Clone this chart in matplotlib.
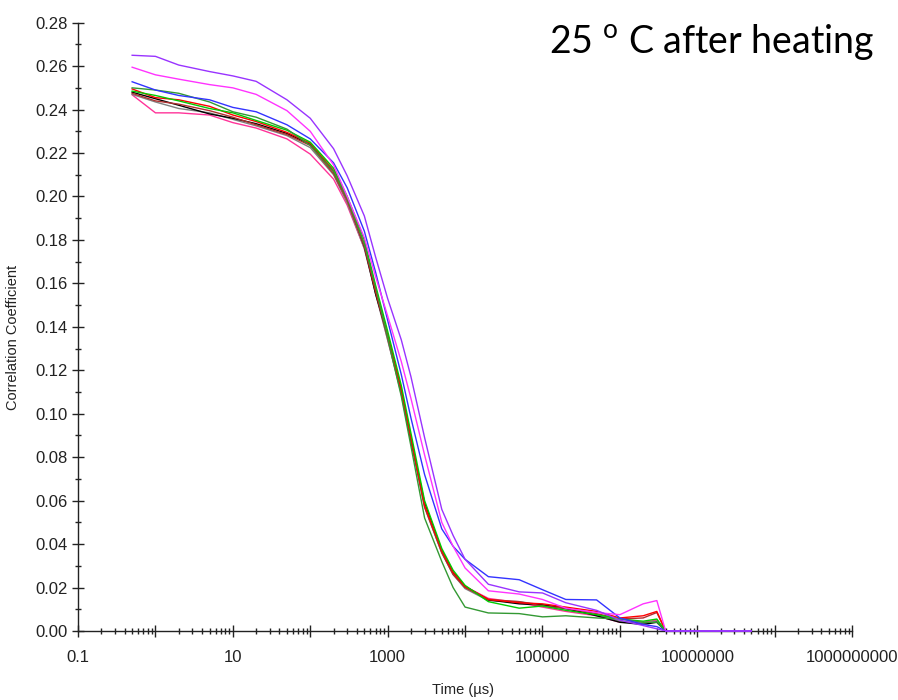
import matplotlib
matplotlib.use("Agg")
import matplotlib.pyplot as plt
import numpy as np
from matplotlib.ticker import FixedLocator, FixedFormatter, MultipleLocator, NullFormatter

# time grid (us) shared by all the curves
times = [0.5, 1, 2, 5, 10, 20, 50, 100, 200, 300, 500, 700, 1000, 1500, 2000,
         3000, 5000, 7000, 10000, 20000, 50000, 1e5, 2e5, 5e5, 1e6, 2e6, 3e6, 3.9e6]

purple = [0.265, 0.2645, 0.2605, 0.2575, 0.2555, 0.253, 0.2445, 0.236, 0.222, 0.2095, 0.191, 0.172,
          0.153, 0.134, 0.117, 0.089, 0.056, 0.044, 0.033, 0.0215, 0.018, 0.0175, 0.013, 0.0095,
          0.005, 0.0025, 0.001, 0.0]
magenta = [0.2595, 0.256, 0.254, 0.2515, 0.25, 0.247, 0.2395, 0.230, 0.2145, 0.2, 0.181, 0.163,
           0.145, 0.124, 0.107, 0.081, 0.050, 0.039, 0.029, 0.0185, 0.017, 0.0145, 0.0105, 0.0085,
           0.0075, 0.0125, 0.014, 0.0]
blue = [0.2528, 0.249, 0.2465, 0.2445, 0.241, 0.239, 0.233, 0.2265, 0.2155, 0.204, 0.184, 0.165,
        0.143, 0.118, 0.098, 0.072, 0.047, 0.039, 0.033, 0.025, 0.0236, 0.019, 0.0145, 0.0143,
        0.006, 0.003, 0.002, 0.0]
dark_green = [0.250, 0.249, 0.2475, 0.2435, 0.239, 0.2365, 0.231, 0.2235, 0.2115, 0.199, 0.178, 0.158,
              0.135, 0.108, 0.085, 0.052, 0.032, 0.020, 0.011, 0.0083, 0.008, 0.0065, 0.007, 0.006,
              0.0055, 0.004, 0.004, 0.0]
lime = [0.2485, 0.2465, 0.244, 0.2405, 0.2385, 0.235, 0.2305, 0.225, 0.213, 0.2, 0.18, 0.159,
        0.138, 0.113, 0.091, 0.060, 0.038, 0.028, 0.021, 0.0135, 0.0105, 0.0115, 0.0095, 0.0075,
        0.0055, 0.0045, 0.0055, 0.0]
red = [0.2495, 0.2455, 0.2445, 0.2415, 0.2375, 0.2345, 0.2295, 0.2245, 0.212, 0.199, 0.178, 0.157,
       0.136, 0.111, 0.089, 0.058, 0.037, 0.027, 0.0205, 0.0145, 0.013, 0.0125, 0.011, 0.009,
       0.006, 0.007, 0.009, 0.0]
dark_red = [0.2475, 0.244, 0.2425, 0.2395, 0.2365, 0.233, 0.2285, 0.2235, 0.2105, 0.198, 0.177, 0.156,
            0.135, 0.110, 0.088, 0.057, 0.036, 0.026, 0.02, 0.0145, 0.0135, 0.0115, 0.0105, 0.008,
            0.0055, 0.006, 0.0085, 0.0]
gray = [0.247, 0.2435, 0.2405, 0.2385, 0.2355, 0.2325, 0.228, 0.2225, 0.21, 0.197, 0.176, 0.155,
        0.134, 0.109, 0.087, 0.057, 0.036, 0.026, 0.0195, 0.014, 0.0135, 0.012, 0.010, 0.0075,
        0.0045, 0.0035, 0.0045, 0.0]
black = [0.248, 0.245, 0.242, 0.238, 0.236, 0.2335, 0.229, 0.224, 0.2115, 0.199, 0.177, 0.155,
         0.136, 0.111, 0.088, 0.059, 0.037, 0.027, 0.0205, 0.0143, 0.0125, 0.012, 0.0105, 0.007,
         0.004, 0.003, 0.004, 0.0]
pink = [0.2468, 0.2385, 0.2385, 0.2375, 0.234, 0.2315, 0.2265, 0.2195, 0.208, 0.196, 0.176, 0.156,
        0.134, 0.110, 0.089, 0.058, 0.037, 0.027, 0.0205, 0.015, 0.013, 0.011, 0.009, 0.007,
        0.004, 0.004, 0.005, 0.0]

# purple trace keeps going along zero
tail_times = [3.9e6, 5e7]
tail_values = [0.0, 0.0]

x_ticks = [0.1, 1, 10, 100, 1000, 1e4, 1e5, 1e6, 1e7, 1e8, 1e9]
x_labels = ["0.1", "", "10", "", "1000", "", "100000", "", "10000000", "", "1000000000"]
y_ticks = [0.00, 0.02, 0.04, 0.06, 0.08, 0.10, 0.12, 0.14, 0.16, 0.18, 0.20, 0.22, 0.24, 0.26, 0.28]

plt.rcParams["font.family"] = ["Liberation Sans", "DejaVu Sans"]
plt.rcParams["mathtext.fontset"] = "custom"
plt.rcParams["mathtext.rm"] = "Lato"

fig = plt.figure(figsize=(8.98, 7.0), dpi=100)
ax = fig.add_axes([0.0869, 0.0986, 0.862, 0.869])

series = [(pink, "#ff3399"), (gray, "#808080"), (black, "#000000"), (dark_red, "#b03030"),
          (red, "#ff0000"), (lime, "#00cc00"), (dark_green, "#339933"), (blue, "#3333ff"),
          (magenta, "#ff33ff"), (purple, "#9933ff")]
for vals, col in series:
    ax.plot(times, vals, color=col, lw=1.0, zorder=3)
ax.plot(tail_times, tail_values, color="#9933ff", lw=1.4, zorder=3, clip_on=False)

ax.set_xscale("log")
ax.set_xlim(0.1, 1e9)
ax.set_ylim(0, 0.28)

ax.xaxis.set_major_locator(FixedLocator(x_ticks))
ax.xaxis.set_major_formatter(FixedFormatter(x_labels))
minor = [m * 10.0 ** k for k in range(-1, 9) for m in range(2, 10)]
ax.xaxis.set_minor_locator(FixedLocator(minor))
ax.xaxis.set_minor_formatter(NullFormatter())

ax.yaxis.set_major_locator(FixedLocator(y_ticks))
ax.yaxis.set_major_formatter(FixedFormatter(["%.2f" % v for v in y_ticks]))
ax.yaxis.set_minor_locator(MultipleLocator(0.01))

for s in ["top", "right"]:
    ax.spines[s].set_visible(False)
for s in ["left", "bottom"]:
    ax.spines[s].set_color("#222222")
    ax.spines[s].set_linewidth(1.0)

ax.tick_params(which="major", direction="inout", length=8, width=1, color="#222222",
               labelsize=12, labelcolor="#222222")
ax.tick_params(which="minor", direction="inout", length=5, width=1, color="#222222")
ax.tick_params(axis="x", pad=10)

ax.set_ylabel("Correlation Coefficient", fontsize=10.5, color="#222222")
ax.yaxis.set_label_coords(-0.075, 0.483)
ax.set_xlabel("Time (\u00b5s)", fontsize=10.5, color="#222222")
ax.xaxis.set_label_coords(0.497, -0.085)

fig.text(0.792, 0.94, "25 $^{\\mathrm{o}}$ C after heating", fontsize=27, family="Lato",
         ha="center", va="center", color="black")

fig.savefig("out.png", dpi=100)
